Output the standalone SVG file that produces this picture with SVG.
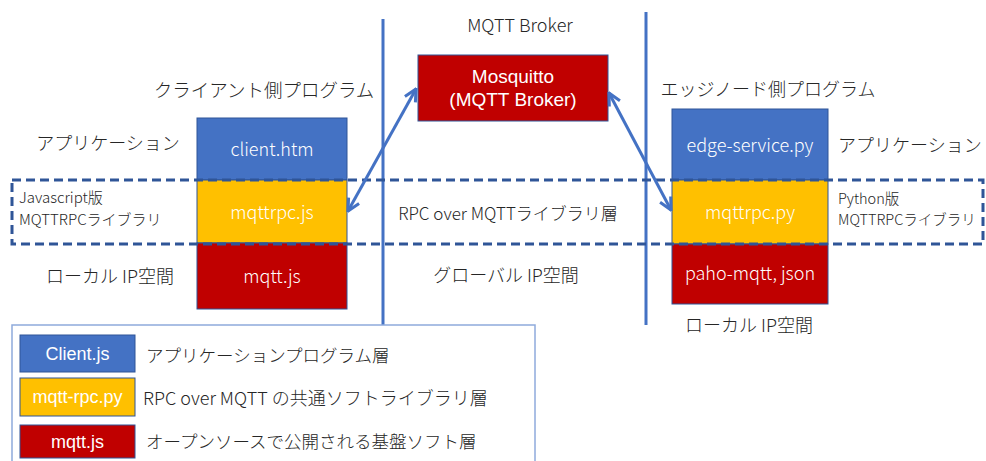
<svg xmlns="http://www.w3.org/2000/svg" width="986" height="461" viewBox="0 0 986 461">
<defs>
<style>
.t{font-family:"Noto Sans CJK JP","Noto Sans",sans-serif;fill:#262626;font-weight:300}
.w{font-family:"Noto Sans CJK JP","Noto Sans",sans-serif;fill:#ffffff;text-anchor:middle;font-weight:300}
.lw{font-family:"Liberation Sans",Arial,sans-serif;fill:#ffffff;text-anchor:middle;font-size:18px}
.blue{fill:#4472C4;stroke:#2F5597;stroke-width:1}
.yel{fill:#FFC000;stroke:#2F5597;stroke-width:1}
.red{fill:#C00000;stroke:#2F5597;stroke-width:1}
.vl{stroke:#4472C4;stroke-width:3;fill:none}
.con{stroke:#4472C4;stroke-width:3;fill:none;marker-start:url(#ah);marker-end:url(#ah)}
</style>
<marker id="ah" viewBox="0 0 10 10" refX="9" refY="5" markerWidth="5" markerHeight="5" orient="auto-start-reverse" markerUnits="strokeWidth">
<path d="M1,1 L9,5 L1,9" fill="none" stroke="#4472C4" stroke-width="2"/>
</marker>
</defs>
<rect width="986" height="461" fill="#ffffff"/>

<g id="dividers">
<line class="vl" x1="383" y1="19" x2="383" y2="327"/>
<line class="vl" x1="646" y1="12" x2="646" y2="325"/>
</g>

<g id="legend">
<rect x="12" y="325" width="523" height="140" fill="#ffffff" stroke="#8FAADC" stroke-width="1.5"/>
<rect class="blue" x="20" y="335" width="115" height="37"/>
<text class="lw" x="77.5" y="360">Client.js</text>
<rect class="yel" x="20" y="378" width="115" height="38"/>
<text class="lw" x="77.5" y="403">mqtt-rpc.py</text>
<rect class="red" x="20" y="425" width="115" height="33"/>
<text class="lw" x="77.5" y="448">mqtt.js</text>
<text class="t" x="146" y="362" font-size="17.5">アプリケーションプログラム層</text>
<text class="t" x="143" y="405" font-size="18">RPC over MQTT の共通ソフトライブラリ層</text>
<text class="t" x="146" y="448" font-size="17.5">オープンソースで公開される基盤ソフト層</text>
</g>

<g id="client">
<text class="t" x="264" y="97" font-size="18.5" text-anchor="middle">クライアント側プログラム</text>
<text class="t" x="108" y="150" font-size="18" text-anchor="middle">アプリケーション</text>
<rect class="blue" x="197" y="118" width="150" height="62"/>
<text class="w" x="272" y="156" font-size="18">client.htm</text>
</g>

<g id="client-lib">
<rect class="yel" x="197" y="180" width="150" height="63"/>
<text class="w" x="272" y="219" font-size="18">mqttrpc.js</text>
<text class="t" x="19" y="203" font-size="15">Javascript版</text>
<text class="t" x="19" y="225" font-size="15">MQTTRPCライブラリ</text>
</g>

<g id="client-base">
<rect class="red" x="197" y="243" width="150" height="66"/>
<text class="w" x="272" y="283" font-size="18">mqtt.js</text>
<text class="t" x="110" y="283" font-size="18" text-anchor="middle">ローカル IP空間</text>
</g>

<g id="broker">
<text class="t" x="520" y="32" font-size="18" text-anchor="middle">MQTT Broker</text>
<rect class="red" x="418" y="55" width="190" height="66"/>
<text class="lw" x="513" y="83" font-size="19" style="font-size:19px">Mosquitto</text>
<text class="lw" x="513" y="106" font-size="19" style="font-size:19px">(MQTT Broker)</text>
<text class="t" x="508" y="220" font-size="17" text-anchor="middle">RPC over MQTTライブラリ層</text>
<text class="t" x="506" y="282" font-size="18" text-anchor="middle">グローバル IP空間</text>
</g>

<g id="edge">
<text class="t" x="768" y="96" font-size="18" text-anchor="middle">エッジノード側プログラム</text>
<rect class="blue" x="672" y="109" width="156" height="71"/>
<text class="w" x="750" y="152" font-size="18">edge-service.py</text>
<text class="t" x="838" y="152" font-size="18">アプリケーション</text>
</g>

<g id="edge-lib">
<rect class="yel" x="672" y="180" width="156" height="64"/>
<text class="w" x="750" y="219" font-size="18">mqttrpc.py</text>
<text class="t" x="838" y="204" font-size="14.5">Python版</text>
<text class="t" x="838" y="225" font-size="14.5">MQTTRPCライブラリ</text>
</g>

<g id="edge-base">
<rect class="red" x="672" y="244" width="156" height="60"/>
<text class="w" x="750" y="280" font-size="18">paho-mqtt, json</text>
<text class="t" x="749" y="332" font-size="18" text-anchor="middle">ローカル IP空間</text>
</g>

<g id="connectors">
<rect x="12" y="180" width="971" height="64" fill="none" stroke="#2F5597" stroke-width="3" stroke-dasharray="9,5"/>
<line class="con" x1="348" y1="211" x2="416" y2="89"/>
<line class="con" x1="609" y1="93" x2="671" y2="210"/>
</g>
</svg>
